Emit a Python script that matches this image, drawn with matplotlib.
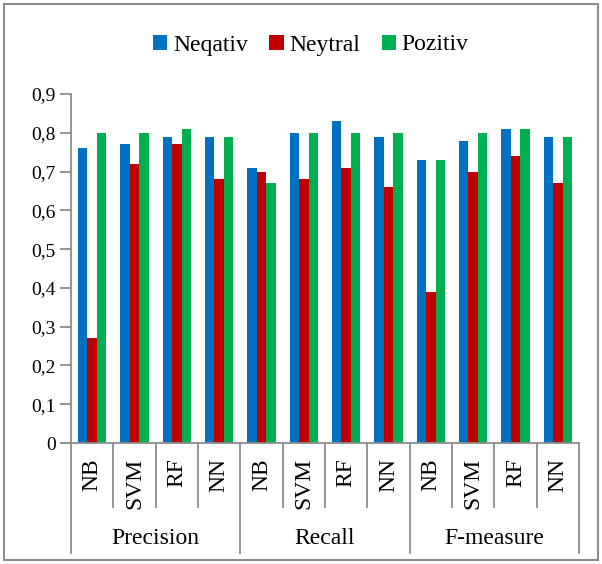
import matplotlib
matplotlib.use('Agg')
import matplotlib.pyplot as plt
import matplotlib.transforms as mtransforms
from matplotlib.patches import Rectangle
import numpy as np

metrics = ['Precision', 'Recall', 'F-measure']
models = ['NB', 'SVM', 'RF', 'NN']
series_names = ['Neqativ', 'Neytral', 'Pozitiv']

neqativ = [0.76, 0.77, 0.79, 0.79, 0.71, 0.80, 0.83, 0.79, 0.73, 0.78, 0.81, 0.79]
neytral = [0.27, 0.72, 0.77, 0.68, 0.70, 0.68, 0.71, 0.66, 0.39, 0.70, 0.74, 0.67]
pozitiv = [0.80, 0.80, 0.81, 0.79, 0.67, 0.80, 0.80, 0.80, 0.73, 0.80, 0.81, 0.79]

colors = ['#0070C0', '#C00000', '#00B050']
grey = '#8C8C8C'

plt.rcParams['font.family'] = ['Liberation Serif', 'DejaVu Serif']

fig = plt.figure(figsize=(6.02, 5.64), dpi=100)
ax = fig.add_axes([71 / 602, 121 / 564, 508 / 602, 349 / 564])

x = np.arange(len(neqativ))
w = 0.225
for k, vals in enumerate([neqativ, neytral, pozitiv]):
    ax.bar(x + (k - 1) * w, vals, w, color=colors[k], label=series_names[k])

ax.set_xlim(-0.5, len(x) - 0.5)
ax.set_ylim(0, 0.9)
ax.set_yticks(np.arange(0, 0.91, 0.1))
ax.set_yticklabels(['0' if v == 0 else f'{v:.1f}'.replace('.', ',') for v in np.arange(0, 0.91, 0.1)],
                   fontsize=14)
ax.tick_params(axis='y', direction='out', length=8, color=grey, width=1.3, pad=3)
ax.set_xticks([])
for s in ['top', 'right']:
    ax.spines[s].set_visible(False)
for s in ['left', 'bottom']:
    ax.spines[s].set_color(grey)
    ax.spines[s].set_linewidth(1.3)

# x axis extends left of the y axis like the tick marks
trans = mtransforms.blended_transform_factory(ax.transData, ax.transAxes)
ax.plot([-0.5 - 8 / 42.3, -0.5], [0, 0], transform=trans, color=grey, lw=1.3, clip_on=False)

# category separators and labels
for b in np.arange(-0.5, len(x), 1.0):
    depth = -110 / 349 if (b + 0.5) % 4 == 0 else -64 / 349
    ax.plot([b, b], [0, depth], transform=trans, color=grey, lw=1.3, clip_on=False)

for i in x:
    ax.text(i, -15 / 349, models[i % 4], transform=trans, rotation=90,
            ha='center', va='top', fontsize=17)

for g, name in enumerate(metrics):
    ax.text(g * 4 + 1.5, -95 / 349, name, transform=trans, ha='center', va='center', fontsize=17)

ax.legend(loc='center', bbox_to_anchor=(311 / 602, 1 - 45 / 564), bbox_transform=fig.transFigure,
          ncol=3, frameon=False, fontsize=17, handlelength=0.6, handleheight=0.6,
          handletextpad=0.25, columnspacing=0.9)

fig.patches.append(Rectangle((4 / 602, 4 / 564), 594 / 602, 556 / 564, transform=fig.transFigure,
                             fill=False, edgecolor=grey, lw=1.5))

fig.savefig('out.png', dpi=100)
